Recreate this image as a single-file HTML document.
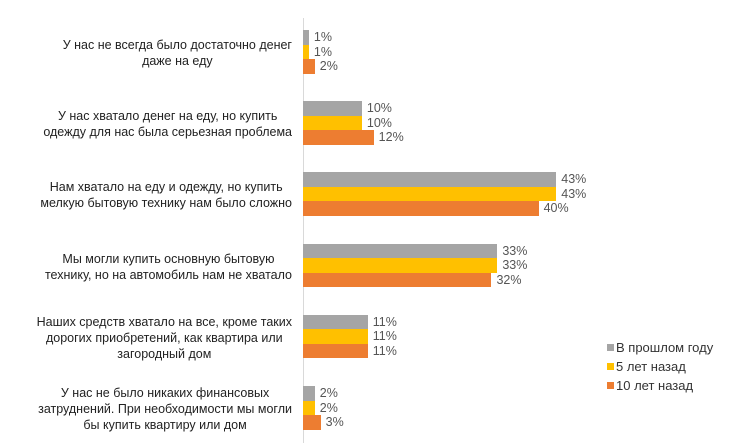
<!DOCTYPE html>
<html><head><meta charset="utf-8"><style>
body{margin:0;width:737px;height:443px;background:#fff;position:relative;overflow:hidden;font-family:"Liberation Sans",sans-serif;color:#222}
.lab{position:absolute;right:445px;text-align:center;font-size:12.5px;line-height:16px;white-space:nowrap;transform:translateY(-50%)}
.b{position:absolute;left:303px;height:14.5px}
.v{position:absolute;font-size:12.5px;color:#555;line-height:14.5px}
.g{background:#a5a5a5}.y{background:#ffc000}.o{background:#ed7d31}
.leg{position:absolute;left:607px;font-size:13px;color:#333;line-height:16px}
.leg span{display:inline-block;width:7px;height:7px;margin-right:2px;vertical-align:1px}
</style></head><body>
<div style="position:absolute;left:303px;top:18px;width:1px;height:425px;background:#d9d9d9"></div>
<div id="c"></div>
<div class="leg" style="top:340px"><span class="g"></span>В прошлом году</div>
<div class="leg" style="top:359px"><span class="y"></span>5 лет назад</div>
<div class="leg" style="top:378px"><span class="o"></span>10 лет назад</div>
<script>
var d=[["У нас не всегда было достаточно денег<br>даже на еду",[1,1,2]],
["У нас хватало денег на еду, но купить<br>одежду для нас была серьезная проблема",[10,10,12]],
["Нам хватало на еду и одежду, но купить<br>мелкую бытовую технику нам было сложно",[43,43,40]],
["Мы могли купить основную бытовую<br>технику, но на автомобиль нам не хватало",[33,33,32]],
["Наших средств хватало на все, кроме таких<br>дорогих приобретений, как квартира или<br>загородный дом",[11,11,11]],
["У нас не было никаких финансовых<br>затруднений. При необходимости мы могли<br>бы купить квартиру или дом",[2,2,3]]];
var h="",cl=["g","y","o"];
d.forEach(function(r,i){var t=30+i*71.2;
h+='<div class="lab" style="top:'+(t+23)+'px">'+r[0]+'</div>';
r[1].forEach(function(v,j){var w=v*5.89,y=t+j*14.5;
h+='<div class="b '+cl[j]+'" style="top:'+y+'px;width:'+w+'px"></div>';
h+='<div class="v" style="top:'+y+'px;left:'+(308+w)+'px">'+v+'%</div>';});});
document.getElementById("c").innerHTML=h;
</script>
</body></html>
